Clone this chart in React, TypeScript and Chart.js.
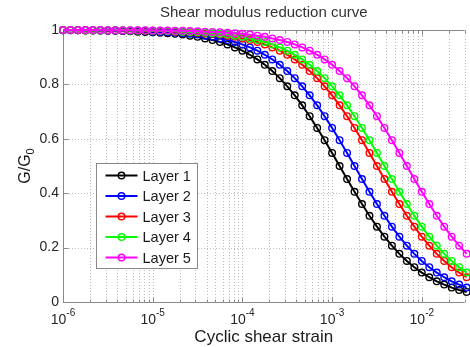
import React, { useEffect, useRef } from 'react';
import { Chart, registerables } from 'chart.js';

Chart.register(...registerables);

const strain = [
  1.000e-6, 1.212e-6, 1.468e-6, 1.778e-6, 2.154e-6, 2.610e-6, 3.162e-6, 3.831e-6, 4.642e-6, 5.623e-6, 6.813e-6, 8.254e-6,
  1.000e-5, 1.212e-5, 1.468e-5, 1.778e-5, 2.154e-5, 2.610e-5, 3.162e-5, 3.831e-5, 4.642e-5, 5.623e-5, 6.813e-5, 8.254e-5,
  1.000e-4, 1.212e-4, 1.468e-4, 1.778e-4, 2.154e-4, 2.610e-4, 3.162e-4, 3.831e-4, 4.642e-4, 5.623e-4, 6.813e-4, 8.254e-4,
  1.000e-3, 1.212e-3, 1.468e-3, 1.778e-3, 2.154e-3, 2.610e-3, 3.162e-3, 3.831e-3, 4.642e-3, 5.623e-3, 6.813e-3, 8.254e-3,
  1.000e-2, 1.212e-2, 1.468e-2, 1.778e-2, 2.154e-2, 2.610e-2, 3.162e-2,
];

const layer1 = [
  0.999, 0.999, 0.999, 0.998, 0.998, 0.998, 0.997, 0.997, 0.996, 0.995, 0.994, 0.993,
  0.992, 0.990, 0.988, 0.986, 0.983, 0.979, 0.975, 0.969, 0.963, 0.956, 0.947, 0.936,
  0.924, 0.909, 0.892, 0.872, 0.849, 0.823, 0.793, 0.760, 0.723, 0.683, 0.640, 0.595,
  0.548, 0.500, 0.452, 0.405, 0.360, 0.317, 0.277, 0.240, 0.207, 0.177, 0.151, 0.128,
  0.108, 0.091, 0.076, 0.064, 0.053, 0.044, 0.037,
];
const layer2 = [
  0.999, 0.999, 0.999, 0.999, 0.999, 0.998, 0.998, 0.998, 0.997, 0.997, 0.996, 0.995,
  0.994, 0.993, 0.992, 0.990, 0.988, 0.986, 0.983, 0.979, 0.975, 0.969, 0.963, 0.956,
  0.947, 0.936, 0.924, 0.909, 0.892, 0.872, 0.849, 0.823, 0.793, 0.760, 0.723, 0.683,
  0.640, 0.595, 0.548, 0.500, 0.452, 0.405, 0.360, 0.317, 0.277, 0.240, 0.207, 0.177,
  0.151, 0.128, 0.108, 0.091, 0.076, 0.064, 0.053,
];
const layer3 = [
  1.000, 1.000, 0.999, 0.999, 0.999, 0.999, 0.999, 0.999, 0.998, 0.998, 0.998, 0.997,
  0.997, 0.996, 0.995, 0.994, 0.993, 0.992, 0.990, 0.988, 0.986, 0.983, 0.979, 0.975,
  0.969, 0.963, 0.956, 0.947, 0.936, 0.924, 0.909, 0.892, 0.872, 0.849, 0.823, 0.793,
  0.760, 0.723, 0.683, 0.640, 0.595, 0.548, 0.500, 0.452, 0.405, 0.360, 0.317, 0.277,
  0.240, 0.207, 0.177, 0.151, 0.128, 0.108, 0.091,
];
const layer4 = [
  1.000, 1.000, 1.000, 0.999, 0.999, 0.999, 0.999, 0.999, 0.999, 0.998, 0.998, 0.998,
  0.997, 0.997, 0.996, 0.995, 0.994, 0.993, 0.992, 0.990, 0.988, 0.986, 0.983, 0.979,
  0.975, 0.969, 0.963, 0.956, 0.947, 0.936, 0.924, 0.909, 0.892, 0.872, 0.849, 0.823,
  0.793, 0.760, 0.723, 0.683, 0.640, 0.595, 0.548, 0.500, 0.452, 0.405, 0.360, 0.317,
  0.277, 0.240, 0.207, 0.177, 0.151, 0.128, 0.108,
];
const layer5 = [
  1.000, 1.000, 1.000, 1.000, 1.000, 1.000, 0.999, 0.999, 0.999, 0.999, 0.999, 0.999,
  0.998, 0.998, 0.998, 0.997, 0.997, 0.996, 0.995, 0.994, 0.993, 0.992, 0.990, 0.988,
  0.986, 0.983, 0.979, 0.975, 0.969, 0.963, 0.956, 0.947, 0.936, 0.924, 0.909, 0.892,
  0.872, 0.849, 0.823, 0.793, 0.760, 0.723, 0.683, 0.640, 0.595, 0.548, 0.500, 0.452,
  0.405, 0.360, 0.317, 0.277, 0.240, 0.207, 0.177,
];

const seriesValues = [layer1, layer2, layer3, layer4, layer5];
const seriesLabels = ['Layer 1', 'Layer 2', 'Layer 3', 'Layer 4', 'Layer 5'];
const seriesColors = ['#000000', '#0000ff', '#ff0000', '#00ff00', '#ff00ff'];

const yTicks = [0, 0.2, 0.4, 0.6, 0.8, 1];
const yTickLabels = ['0', '0.2', '0.4', '0.6', '0.8', '1'];
const xDecades = [1e-6, 1e-5, 1e-4, 1e-3, 1e-2];
const xExponents = ['-6', '-5', '-4', '-3', '-2'];
const xMin = 1e-6;
const xMax = 0.03;

const titleText = 'Shear modulus reduction curve';
const xTitleText = 'Cyclic shear strain';
const yTitleMain = 'G/G';
const yTitleSub = '0';

const FONT = '"Liberation Sans", Arial, Helvetica, sans-serif';

export default function App() {
  const canvasRef = useRef<HTMLCanvasElement>(null);

  useEffect(() => {
    const canvas = canvasRef.current;
    if (!canvas) return;

    const decor = {
      id: 'decor',
      beforeDatasetsDraw(chart: any) {
        const { ctx, chartArea: a, scales } = chart;
        const xs = scales.x;
        const ys = scales.y;
        ctx.save();
        // dotted grid
        ctx.strokeStyle = '#bcbcbc';
        ctx.lineWidth = 1;
        ctx.setLineDash([1, 2]);
        for (const d of xDecades) {
          for (let m = 1; m <= 9; m++) {
            const v = m * d;
            if (v > xMax) break;
            const px = Math.round(xs.getPixelForValue(v)) + 0.5;
            ctx.beginPath();
            ctx.moveTo(px, a.top);
            ctx.lineTo(px, a.bottom);
            ctx.stroke();
          }
        }
        for (const t of yTicks) {
          const py = Math.round(ys.getPixelForValue(t)) + 0.5;
          ctx.beginPath();
          ctx.moveTo(a.left, py);
          ctx.lineTo(a.right, py);
          ctx.stroke();
        }
        ctx.setLineDash([]);
        // box
        ctx.strokeStyle = '#8a8a8a';
        const L = Math.round(a.left) + 0.5;
        const B = Math.round(a.bottom) + 0.5;
        const T = Math.round(a.top) + 0.5;
        ctx.beginPath();
        ctx.moveTo(L, T);
        ctx.lineTo(L, B);
        ctx.lineTo(a.right, B);
        ctx.moveTo(L, T);
        ctx.lineTo(a.right, T);
        ctx.stroke();
        // inward ticks
        for (const d of xDecades) {
          for (let m = 1; m <= 9; m++) {
            const v = m * d;
            if (v > xMax) break;
            const px = Math.round(xs.getPixelForValue(v)) + 0.5;
            const len = m === 1 ? 5 : 3;
            ctx.beginPath();
            ctx.moveTo(px, B);
            ctx.lineTo(px, B - len);
            ctx.moveTo(px, T);
            ctx.lineTo(px, T + len);
            ctx.stroke();
          }
        }
        for (const t of yTicks) {
          const py = Math.round(ys.getPixelForValue(t)) + 0.5;
          ctx.beginPath();
          ctx.moveTo(L, py);
          ctx.lineTo(L + 5, py);
          ctx.stroke();
        }
        ctx.restore();
      },
      afterDraw(chart: any) {
        const { ctx, chartArea: a, scales } = chart;
        const xs = scales.x;
        ctx.save();
        ctx.fillStyle = '#262626';
        // x tick labels with superscript exponents
        for (let i = 0; i < xDecades.length; i++) {
          const px = xs.getPixelForValue(xDecades[i]);
          ctx.font = `14px ${FONT}`;
          const w1 = ctx.measureText('10').width;
          ctx.font = `10px ${FONT}`;
          const w2 = ctx.measureText(xExponents[i]).width;
          const start = px - (w1 + w2) / 2;
          ctx.textAlign = 'left';
          ctx.textBaseline = 'alphabetic';
          ctx.font = `14px ${FONT}`;
          ctx.fillText('10', start, a.bottom + 22);
          ctx.font = `10px ${FONT}`;
          ctx.fillText(xExponents[i], start + w1, a.bottom + 14);
        }
        // title
        const cx = (a.left + a.right) / 2;
        ctx.font = `15px ${FONT}`;
        ctx.fillStyle = '#333333';
        ctx.textAlign = 'center';
        ctx.textBaseline = 'middle';
        ctx.fillText(titleText, cx, 13);
        // x title
        ctx.fillStyle = '#1a1a1a';
        ctx.font = `17px ${FONT}`;
        ctx.fillText(xTitleText, cx, a.bottom + 35);
        // y title
        ctx.save();
        ctx.translate(24, (a.top + a.bottom) / 2);
        ctx.rotate(-Math.PI / 2);
        ctx.font = `16px ${FONT}`;
        const wm = ctx.measureText(yTitleMain).width;
        ctx.font = `11px ${FONT}`;
        const ws = ctx.measureText(yTitleSub).width;
        const s0 = -(wm + ws) / 2;
        ctx.textAlign = 'left';
        ctx.textBaseline = 'alphabetic';
        ctx.font = `16px ${FONT}`;
        ctx.fillText(yTitleMain, s0, 6);
        ctx.font = `11px ${FONT}`;
        ctx.fillText(yTitleSub, s0 + wm, 10);
        ctx.restore();
        // legend
        const lx = Math.round(a.left + 33) + 0.5;
        const ly = Math.round(a.top + 133) + 0.5;
        const lw = 101;
        const lh = 105;
        ctx.fillStyle = '#ffffff';
        ctx.fillRect(lx, ly, lw, lh);
        ctx.strokeStyle = '#8a8a8a';
        ctx.lineWidth = 1;
        ctx.strokeRect(lx, ly, lw, lh);
        for (let i = 0; i < seriesLabels.length; i++) {
          const y = ly + 12 + i * 20.5;
          ctx.strokeStyle = seriesColors[i];
          ctx.lineWidth = 2;
          ctx.beginPath();
          ctx.moveTo(lx + 9, y);
          ctx.lineTo(lx + 41, y);
          ctx.stroke();
          ctx.lineWidth = 1.4;
          ctx.beginPath();
          ctx.arc(lx + 25, y, 3.3, 0, Math.PI * 2);
          ctx.stroke();
          ctx.fillStyle = '#1a1a1a';
          ctx.font = `14.5px ${FONT}`;
          ctx.textAlign = 'left';
          ctx.textBaseline = 'middle';
          ctx.fillText(seriesLabels[i], lx + 46, y + 1);
        }
        ctx.restore();
      },
    };

    const chart = new Chart(canvas, {
      type: 'line',
      data: {
        datasets: seriesValues.map((vals, i) => ({
          label: seriesLabels[i],
          data: vals.map((v, k) => ({ x: strain[k], y: v })),
          borderColor: seriesColors[i],
          backgroundColor: seriesColors[i],
          borderWidth: 2,
          pointRadius: 3.3,
          pointBorderWidth: 1.4,
          pointBackgroundColor: 'rgba(255,255,255,0)',
          pointBorderColor: seriesColors[i],
          tension: 0,
          fill: false,
          clip: false as any,
          order: seriesValues.length - i,
        })),
      },
      options: {
        animation: false,
        responsive: false,
        devicePixelRatio: 1,
        events: [],
        layout: { padding: { top: 30, right: 0, bottom: 0, left: 0 } },
        plugins: {
          legend: { display: false },
          title: { display: false },
          tooltip: { enabled: false },
        },
        scales: {
          x: {
            type: 'logarithmic',
            min: xMin,
            max: xMax,
            grid: { display: false },
            border: { display: false },
            ticks: { display: false },
            afterFit: (s: any) => {
              s.height = 45;
            },
          },
          y: {
            type: 'linear',
            min: 0,
            max: 1,
            grid: { display: false, drawTicks: false },
            border: { display: false },
            ticks: {
              stepSize: 0.2,
              padding: 4,
              color: '#262626',
              font: { family: FONT, size: 14 },
              callback: (v: any) => {
                const idx = yTicks.findIndex((t) => Math.abs(t - Number(v)) < 1e-6);
                return idx >= 0 ? yTickLabels[idx] : '';
              },
            },
            afterFit: (s: any) => {
              s.width = 63;
            },
          },
        },
      },
      plugins: [decor],
    });

    return () => chart.destroy();
  }, []);

  return (
    <div style={{ position: 'absolute', left: 0, top: 0, width: 470, height: 347, background: '#fff' }}>
      <canvas ref={canvasRef} width={470} height={347} style={{ display: 'block', width: 470, height: 347 }} />
    </div>
  );
}
